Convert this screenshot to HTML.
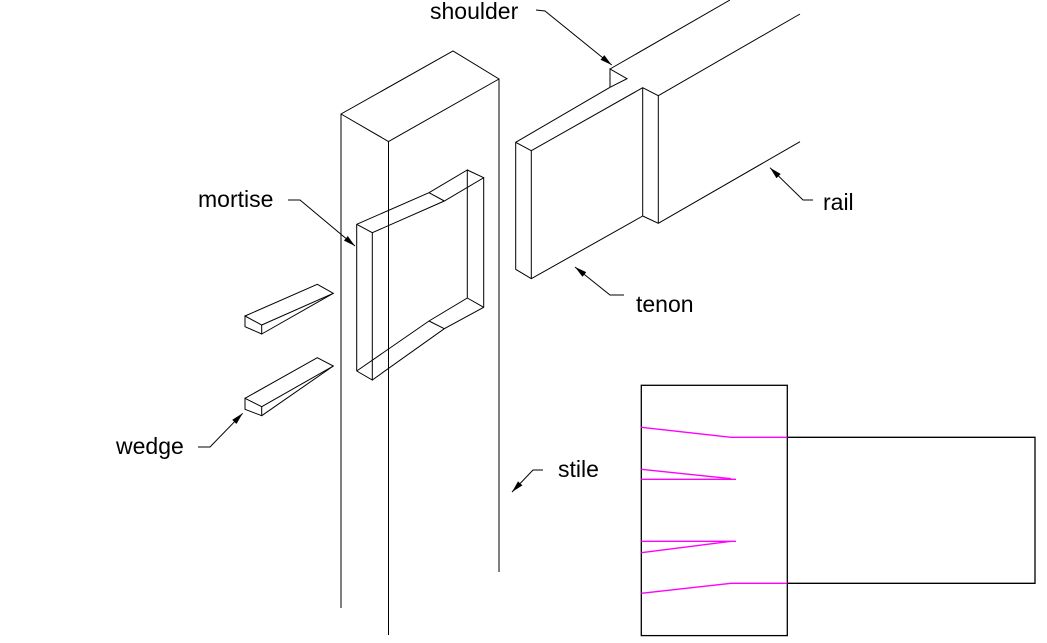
<!DOCTYPE html>
<html><head><meta charset="utf-8"><style>
html,body{margin:0;padding:0;background:#fff;}
svg{display:block;}
text{font-family:"Liberation Sans",Arial,sans-serif;font-size:23px;fill:#000;}
</style></head><body>
<svg width="1047" height="643" viewBox="0 0 1047 643" xmlns="http://www.w3.org/2000/svg">
<defs>
<marker id="ah" markerWidth="12" markerHeight="6" refX="12" refY="3" orient="auto" markerUnits="userSpaceOnUse">
<path d="M0,0 L12,3 L0,6 z" fill="#000"/>
</marker>
</defs>
<g fill="none" stroke="#000" stroke-width="1">
<polyline points="341,608 341,114 453,51 499,79 499,572"/>
<polyline points="341,114 388.5,141.5 499,79"/>
<line x1="388.5" y1="141.5" x2="388.5" y2="635"/>
<polyline points="356.7,371 356.7,224.3 429,192.7 467.3,170 467.3,298 429,321 356.7,371"/>
<polyline points="356.7,224.3 372.3,232.7 372.3,380 356.7,371"/>
<polyline points="372.3,232.7 444.3,201 483.7,177.7 483.7,307.3 444.3,328.7 372.3,380"/>
<line x1="429" y1="192.7" x2="444.3" y2="201"/>
<line x1="429" y1="321" x2="444.3" y2="328.7"/>
<line x1="467.3" y1="170" x2="483.7" y2="177.7"/>
<line x1="467.3" y1="298" x2="483.7" y2="307.3"/>
<polyline points="610,87.3 515.7,142.3 515.7,269.3 531.3,278.7 642.7,216"/>
<polyline points="515.7,142.3 531.3,150.7 642.7,87.7 658.3,95.7 800,14"/>
<line x1="531.3" y1="150.7" x2="531.3" y2="278.7"/>
<line x1="642.7" y1="87.7" x2="642.7" y2="216"/>
<polyline points="642.7,216 658.3,223.3 800,141.7"/>
<line x1="658.3" y1="95.7" x2="658.3" y2="223.3"/>
<polyline points="610,87.3 610,69 627,78.7 610,87.3"/>
<line x1="610" y1="69" x2="730" y2="0"/>
<polygon points="245,316 261.7,325 261.7,334 245,326.7"/>
<polyline points="245,316 317.3,284.3 333.3,293.3 261.7,325"/>
<line x1="261.7" y1="334" x2="333.3" y2="293.3"/>
<polygon points="245,398.3 261.7,406.7 261.7,415.7 245,409.3"/>
<polyline points="245,398.3 317.3,357.7 333.3,366 261.7,406.7"/>
<line x1="261.7" y1="415.7" x2="333.3" y2="366"/>
<rect x="641.3" y="385.3" width="146" height="250.3" stroke-width="1.3"/>
<polyline points="787.3,437.3 1035,437.3 1035,583.3 787.3,583.3" stroke-width="1.3"/>
</g>
<g fill="none" stroke="#ff00ff" stroke-width="1.3">
<polyline points="641.3,427.3 731,437.3 787.3,437.3"/>
<line x1="641.3" y1="469.3" x2="731" y2="478.7"/>
<line x1="641.3" y1="479.3" x2="736" y2="479.3"/>
<line x1="641.3" y1="541.3" x2="736" y2="541.3"/>
<line x1="641.3" y1="552.7" x2="731" y2="541.3"/>
<polyline points="641.3,593.3 731,583.3 787.3,583.3"/>
</g>
<g fill="none" stroke="#000" stroke-width="1">
<polyline points="536,10 545,11 611.7,65" marker-end="url(#ah)"/>
<polyline points="813,200 803,200 770,167.7" marker-end="url(#ah)"/>
<polyline points="624,295 610,295 575,267" marker-end="url(#ah)"/>
<polyline points="288,200 300,200 355,246" marker-end="url(#ah)"/>
<polyline points="198,447 210,447 242.7,413.3" marker-end="url(#ah)"/>
<polyline points="543,470 533,470 512,492" marker-end="url(#ah)"/>
</g>
<text x="430" y="19">shoulder</text>
<text x="198" y="207">mortise</text>
<text x="823" y="210">rail</text>
<text x="636" y="312">tenon</text>
<text x="116" y="454">wedge</text>
<text x="558" y="477">stile</text>
</svg>
</body></html>
